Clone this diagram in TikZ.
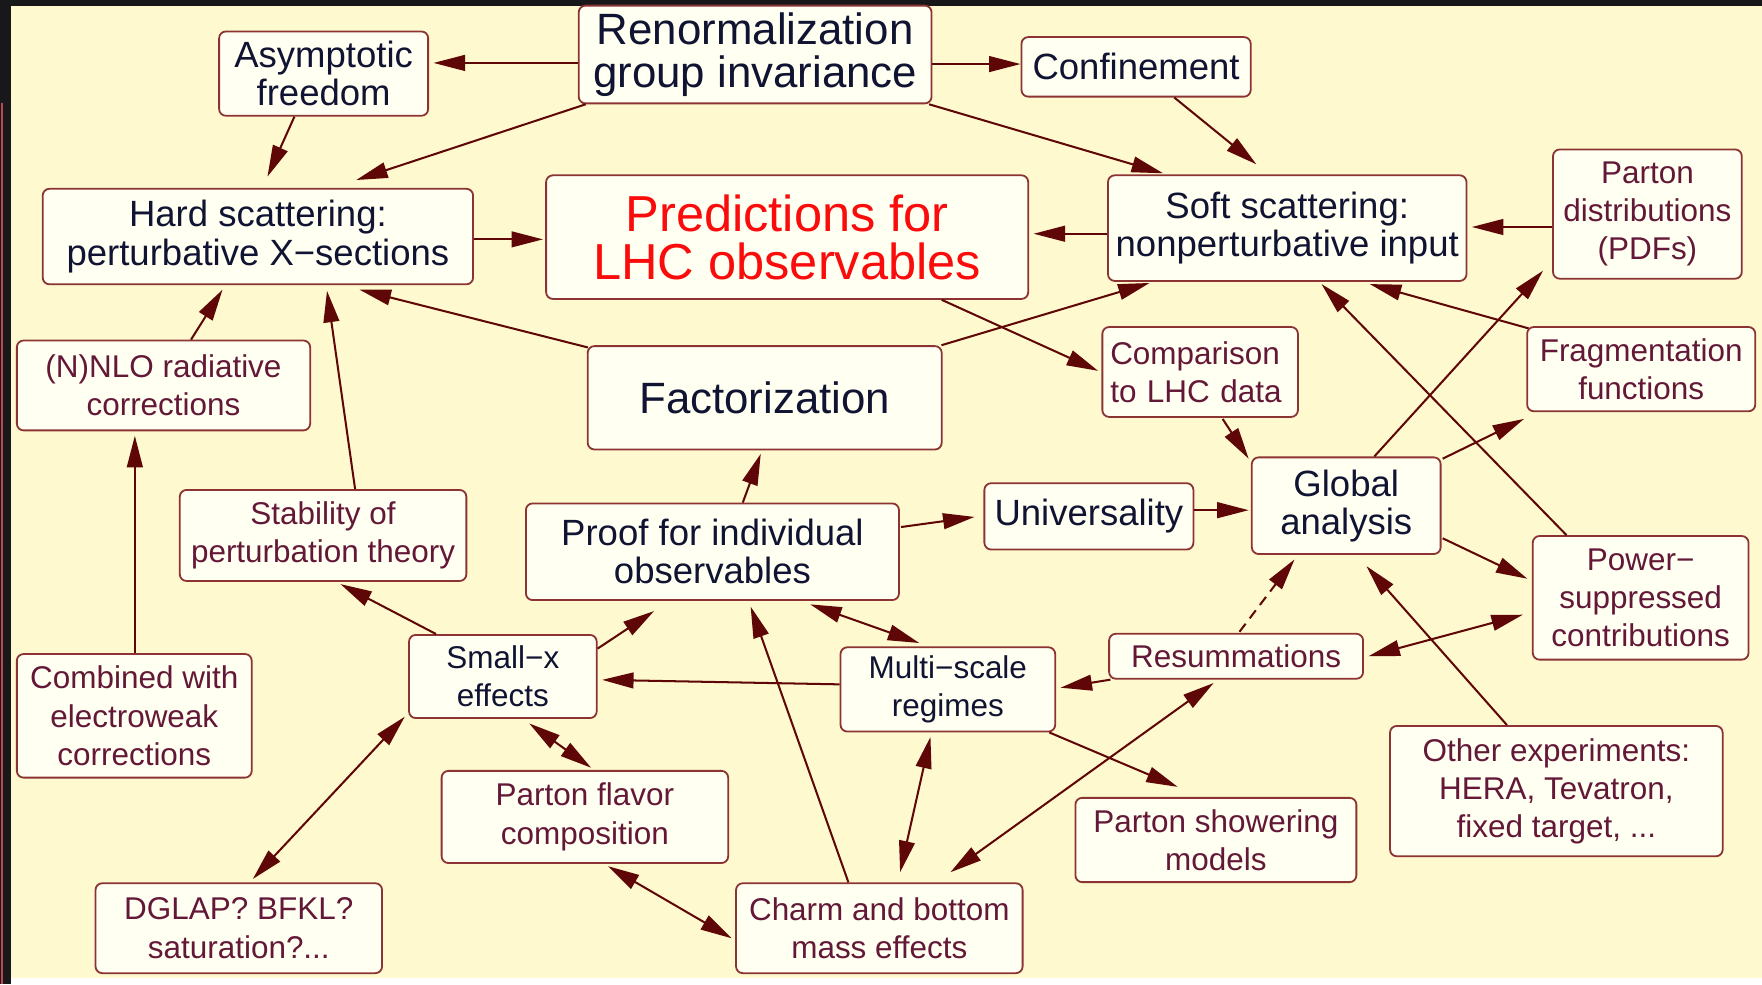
\documentclass[tikz,border=0pt]{standalone}
\usepackage{fontspec}
\setmainfont{Liberation Sans}
\usetikzlibrary{arrows.meta}

\definecolor{framedark}{RGB}{24,24,26}
\definecolor{cream}{RGB}{254,249,206}
\definecolor{boxfill}{RGB}{255,255,242}
\definecolor{boxline}{RGB}{140,52,52}
\definecolor{arrowcol}{RGB}{95,6,6}
\definecolor{navy}{RGB}{16,20,50}
\definecolor{maroon}{RGB}{100,24,56}
\definecolor{predred}{RGB}{250,12,12}

\begin{document}
\begin{tikzpicture}[x=1pt,y=-1pt,
	box/.style={draw=boxline,fill=boxfill,rounded corners=6pt,line width=1.6pt,align=center,inner sep=0pt,text=navy},
	mbox/.style={box,text=maroon},
	txtS/.style={font=\fontsize{28}{34}\selectfont},
	txtM/.style={font=\fontsize{32.5}{34}\selectfont},
	txtL/.style={font=\fontsize{39}{38}\selectfont},
	arr/.style={draw=arrowcol,line width=1.8pt,-{Triangle[length=28pt,width=14pt]}},
	darr/.style={arr,{Triangle[length=28pt,width=14pt]}-{Triangle[length=28pt,width=14pt]}}]
	\useasboundingbox (0,0) rectangle (1568,876);
	\fill[framedark] (0,0) rectangle (1568,876);
	\fill[cream] (10,5) rectangle (1568,870);
	\fill[white] (10,870) rectangle (1568,876);
	\draw[color={rgb,255:red,190;green,70;blue,80},line width=1.5pt] (2,92) -- (2,876);
	% top row
	\node[box,txtM,minimum width=186pt,minimum height=75pt] (asym) at (288,65.5) {Asymptotic\\freedom};
	\node[box,txtL,minimum width=314pt,minimum height=87pt] (rgi) at (672,48.5) {Renormalization\\group invariance};
	\node[box,txtM,minimum width=204pt,minimum height=53pt] (conf) at (1011,59.5) {Confinement};
	\node[box,txtM,minimum width=383pt,minimum height=85pt] (hard) at (229.5,210.5) {Hard scattering:\\perturbative X−sections};
	\node[box,font=\fontsize{45}{43}\selectfont,text=predred,minimum width=429pt,minimum height=110pt] (pred) at (700.5,211) {Predictions for\\LHC observables};
	\node[box,txtM,minimum width=319pt,minimum height=94pt] (soft) at (1145.5,203) {Soft scattering:\\nonperturbative input};
	\node[mbox,txtS,minimum width=168pt,minimum height=115pt] (pdf) at (1466,190.5) {Parton\\distributions\\(PDFs)};
	% middle
	\node[mbox,txtS,minimum width=261pt,minimum height=80pt] (nnlo) at (145.5,343) {(N)NLO radiative\\corrections};
	\node[box,txtL,minimum width=315pt,minimum height=92pt] (fact) at (680.5,354) {Factorization};
	\node[mbox,txtS,text width=160pt,align=left,minimum width=174pt,minimum height=80pt] (comp) at (1068,331) {Comparison\\to LHC data};
	\node[mbox,txtS,minimum width=203pt,minimum height=75pt] (frag) at (1460.5,328.5) {Fragmentation\\functions};
	\node[mbox,txtS,minimum width=255pt,minimum height=81pt] (stab) at (287.5,476.5) {Stability of\\perturbation theory};
	\node[box,txtM,minimum width=332pt,minimum height=86pt] (proof) at (634,491) {Proof for individual\\observables};
	\node[box,txtM,minimum width=186pt,minimum height=59pt] (univ) at (969,459.5) {Universality};
	\node[box,txtM,minimum width=168pt,minimum height=86pt] (glob) at (1198,450) {Global\\analysis};
	\node[mbox,txtS,minimum width=192pt,minimum height=110pt] (power) at (1460,532) {Power−\\suppressed\\contributions};
	% lower rows
	\node[box,txtS,minimum width=167pt,minimum height=74pt] (smallx) at (447.5,602) {Small−x\\effects};
	\node[box,txtS,minimum width=191pt,minimum height=75pt] (multi) at (843.5,613.5) {Multi−scale\\regimes};
	\node[mbox,txtS,minimum width=226pt,minimum height=40pt] (resum) at (1100,584) {Resummations};
	\node[mbox,txtS,minimum width=209pt,minimum height=110pt] (comb) at (119.5,637) {Combined with\\electroweak\\corrections};
	\node[mbox,txtS,minimum width=255pt,minimum height=82pt] (flav) at (520.5,727) {Parton flavor\\composition};
	\node[mbox,txtS,minimum width=296pt,minimum height=116pt] (other) at (1385,704) {Other experiments:\\HERA, Tevatron,\\fixed target, ...};
	\node[mbox,txtS,minimum width=250pt,minimum height=75pt] (shower) at (1082,747.5) {Parton showering\\models};
	\node[mbox,txtS,minimum width=255pt,minimum height=80pt] (dglap) at (212.5,826) {DGLAP? BFKL?\\saturation?...};
	\node[mbox,txtS,minimum width=255pt,minimum height=80pt] (charm) at (782.5,826) {Charm and bottom\\mass effects};
	% connectors
	\draw[arr] ([shift={(0,7.5)}]rgi.west) -- ([shift={(4,-9.5)}]asym.east);
	\draw[arr] ([shift={(0,8.5)}]rgi.east) -- ([shift={(0,-2.5)}]conf.west);
	\draw[arr] ([shift={(-26,0)}]asym.south) -- ([shift={(8.5,-10)}]hard.north);
	\draw[arr] ([shift={(7,0)}]rgi.south west) -- ([shift={(87.5,-7)}]hard.north);
	\draw[arr] ([shift={(-3,0)}]rgi.south east) -- ([shift={(-110.5,-1)}]soft.north);
	\draw[arr] ([shift={(34,0)}]conf.south) -- ([shift={(-27.5,-9)}]soft.north);
	\draw[arr] ([shift={(0,2.5)}]hard.east) -- ([shift={(-2,2)}]pred.west);
	\draw[arr] ([shift={(0,5)}]soft.west) -- ([shift={(4,-3)}]pred.east);
	\draw[arr] ([shift={(0,11.5)}]pdf.west) -- ([shift={(4,-1)}]soft.east);
	\draw[arr] ([shift={(1,2)}]fact.north west) -- ([shift={(90.5,4)}]hard.south);
	\draw[arr] ([shift={(-1,0)}]fact.north east) -- ([shift={(-122.5,1)}]soft.south);
	\draw[arr] ([shift={(137.5,0)}]pred.south) -- ([shift={(-3,-1)}]comp.west);
	\draw[arr] ([shift={(24.5,0)}]nnlo.north) -- ([shift={(-31.5,4)}]hard.south);
	\draw[arr] ([shift={(28.5,0)}]stab.north) -- ([shift={(61.5,5)}]hard.south);
	\draw[arr] ([shift={(0.5,0)}]comb.north) -- ([shift={(-25.5,4)}]nnlo.south);
	\draw[arr] ([shift={(-59.5,0)}]smallx.north) -- ([shift={(15.5,2)}]stab.south);
	\draw[arr] ([shift={(0,13)}]smallx.north east) -- ([shift={(-52,9)}]proof.south);
	\draw[arr] ([shift={(27,0)}]proof.north) -- ([shift={(-3.5,3)}]fact.south);
	\draw[arr] ([shift={(1,-22)}]proof.east) -- ([shift={(-8,0.5)}]univ.west);
	\draw[arr] ([shift={(0,-5.5)}]univ.east) -- ([shift={(-2,4)}]glob.west);
	\draw[arr] ([shift={(20,1)}]comp.south) -- ([shift={(-2,2)}]glob.north west);
	\draw[arr] ([shift={(25,0)}]glob.north) -- ([shift={(-8,-8)}]pdf.south west);
	\draw[arr] ([shift={(1,2)}]glob.north east) -- ([shift={(-2,6)}]frag.south west);
	\draw[arr] ([shift={(2,2)}]frag.north west) -- ([shift={(73.5,2)}]soft.south);
	\draw[arr] ([shift={(-66,0)}]power.north) -- ([shift={(30.5,2)}]soft.south);
	\draw[arr] ([shift={(1,29)}]glob.east) -- ([shift={(-4,-17)}]power.west);
	\draw[arr] ([shift={(-44,0)}]other.north) -- ([shift={(18,10)}]glob.south);
	\draw[arr,dashed,dash pattern=on 9pt off 6pt] ([shift={(3,-1)}]resum.north) -- ([shift={(-46,4)}]glob.south);
	\draw[darr] ([shift={(4,0)}]resum.east) -- ([shift={(-8,15)}]power.west);
	\draw[arr] ([shift={(2,0)}]resum.south west) -- ([shift={(4,-1.5)}]multi.east);
	\draw[arr] ([shift={(0,-4.5)}]multi.west) -- ([shift={(4,3)}]smallx.east);
	\draw[darr] ([shift={(87,3)}]proof.south) -- ([shift={(-25.5,-3)}]multi.north);
	\draw[arr] ([shift={(-27.5,0)}]charm.north) -- ([shift={(34,5)}]proof.south);
	\draw[darr] ([shift={(-15.5,4)}]multi.south) -- ([shift={(18.5,-9)}]charm.north);
	\draw[darr] ([shift={(-20,3)}]resum.south) -- ([shift={(-65,-9)}]charm.north east);
	\draw[arr] ([shift={(-6,0)}]multi.south east) -- ([shift={(-34,-9)}]shower.north);
	\draw[darr] ([shift={(23.5,4)}]smallx.south) -- ([shift={(5.5,-2)}]flav.north);
	\draw[darr] ([shift={(-3,-2)}]smallx.south west) -- ([shift={(12.5,-3)}]dglap.north);
	\draw[darr] ([shift={(20.5,2)}]flav.south) -- ([shift={(-3,9)}]charm.west);
\end{tikzpicture}
\end{document}
